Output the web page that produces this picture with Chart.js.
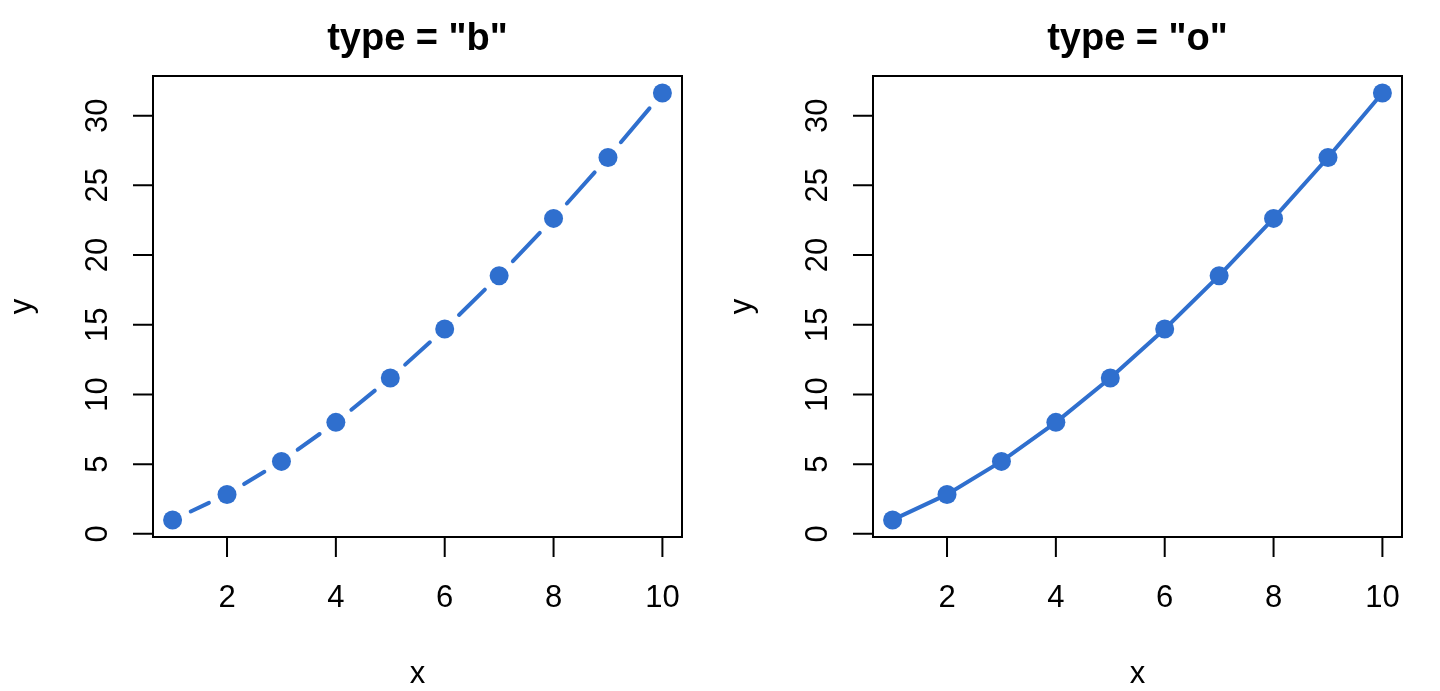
<!DOCTYPE html>
<html>
<head>
<meta charset="utf-8">
<script src="https://cdn.jsdelivr.net/npm/chart.js@4"></script>
<style>
  html, body { margin:0; padding:0; background:#fff; }
  #wrap { width:1440px; height:691px; display:flex; }
  canvas { display:block; }
</style>
</head>
<body>
<div id="wrap">
  <canvas id="plotB" width="720" height="691"></canvas>
  <canvas id="plotO" width="720" height="691"></canvas>
</div>
<script>
// Dados
const xValues = [1, 2, 3, 4, 5, 6, 7, 8, 9, 10];
const yValues = [1, 2.83, 5.2, 8, 11.18, 14.7, 18.52, 22.63, 27, 31.62];
const xTicks = [2, 4, 6, 8, 10];
const yTicks = [0, 5, 10, 15, 20, 25, 30];
const titles = ['type = "b"', 'type = "o"'];

const blue = '#2F6FCE';
const font = '"Liberation Sans", Arial, Helvetica, sans-serif';

// Escala estilo R (4% de folga)
function extend(vals){
  const lo = Math.min(...vals), hi = Math.max(...vals);
  const d = (hi - lo) * 0.04;
  return [lo - d, hi + d];
}
const [xMin, xMax] = extend(xValues);
const [yMin, yMax] = extend(yValues);

// Eixos, caixa e textos no estilo base do R
const rAxes = {
  id: 'rAxes',
  afterDraw(chart, args, opts){
    const {ctx, chartArea: a, scales} = chart;
    const xs = scales.x, ys = scales.y;
    ctx.save();
    ctx.strokeStyle = '#000';
    ctx.fillStyle = '#000';
    ctx.lineWidth = 2;
    ctx.strokeRect(a.left, a.top, a.right - a.left, a.bottom - a.top);

    // ticks
    ctx.beginPath();
    xTicks.forEach(v=>{
      const px = xs.getPixelForValue(v);
      ctx.moveTo(px, a.bottom); ctx.lineTo(px, a.bottom + 20);
    });
    yTicks.forEach(v=>{
      const py = ys.getPixelForValue(v);
      ctx.moveTo(a.left, py); ctx.lineTo(a.left - 20, py);
    });
    ctx.stroke();

    ctx.font = '31px ' + font;
    ctx.textAlign = 'center';
    ctx.textBaseline = 'alphabetic';
    xTicks.forEach(v=>{
      ctx.fillText(String(v), xs.getPixelForValue(v), a.bottom + 70);
    });
    yTicks.forEach(v=>{
      ctx.save();
      ctx.translate(a.left - 46, ys.getPixelForValue(v));
      ctx.rotate(-Math.PI/2);
      ctx.fillText(String(v), 0, 0);
      ctx.restore();
    });

    // rótulos dos eixos
    const cx = (a.left + a.right)/2, cy = (a.top + a.bottom)/2;
    ctx.fillText('x', cx, a.bottom + 146);
    ctx.save();
    ctx.translate(a.left - 122, cy);
    ctx.rotate(-Math.PI/2);
    ctx.fillText('y', 0, 0);
    ctx.restore();

    // título
    ctx.font = 'bold 38px ' + font;
    ctx.fillText(opts.title, cx, 50);
    ctx.restore();
  }
};

const points = xValues.map((x, i)=>({x, y: yValues[i]}));

function makeChart(id, title, gapped){
  const ds = {
    data: points,
    borderColor: blue,
    backgroundColor: blue,
    borderWidth: 4,
    borderCapStyle: 'round',
    pointRadius: 9.5,
    pointHoverRadius: 9.5,
    pointBorderWidth: 0,
    pointBackgroundColor: blue,
    tension: 0,
    clip: false
  };
  if (gapped){
    // tipo "b": cada segmento para antes dos pontos
    const g = 20;
    ds.segment = {
      borderDash: c => {
        const d = Math.hypot(c.p1.x - c.p0.x, c.p1.y - c.p0.y);
        return [Math.max(d - 2*g, 0), 100000];
      },
      borderDashOffset: () => -g
    };
  }
  return new Chart(document.getElementById(id), {
    type: 'line',
    data: { datasets: [ds] },
    options: {
      responsive: false,
      animation: false,
      devicePixelRatio: 1,
      layout: { padding: { left: 153, right: 38, top: 76, bottom: 154 } },
      plugins: { legend: {display:false}, tooltip: {enabled:false}, rAxes: {title} },
      scales: {
        x: { type:'linear', min:xMin, max:xMax, display:false },
        y: { type:'linear', min:yMin, max:yMax, display:false }
      }
    },
    plugins: [rAxes]
  });
}

makeChart('plotB', titles[0], true);
makeChart('plotO', titles[1], false);
</script>
</body>
</html>
